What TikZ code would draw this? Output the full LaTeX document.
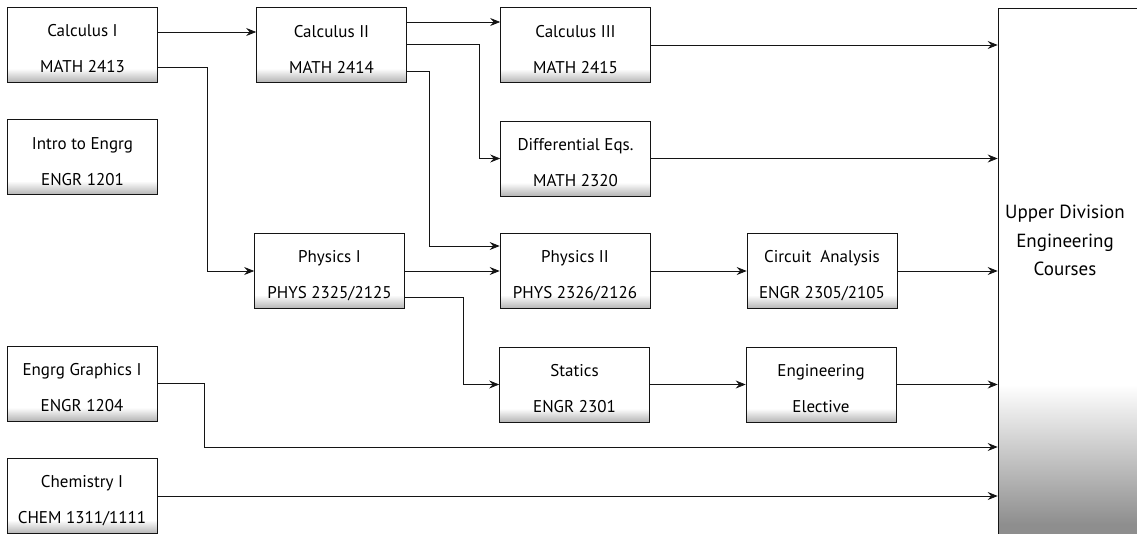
\documentclass[tikz,border=0pt]{standalone}
\usepackage{fontspec}
\setmainfont{PT Sans}
\usetikzlibrary{arrows.meta,positioning}
\definecolor{ink}{HTML}{141414}
\definecolor{grain}{HTML}{B4B4B4}
\definecolor{graindk}{HTML}{8E8E8E}
\pgfdeclareverticalshading{boxgrain}{100bp}{color(0bp)=(grain); color(25bp)=(grain); color(34bp)=(white); color(100bp)=(white)}
\pgfdeclareverticalshading{uppergrain}{100bp}{color(0bp)=(graindk); color(27bp)=(graindk); color(40bp)=(white); color(100bp)=(white)}

\begin{document}
\begin{tikzpicture}[x=1pt,y=-1pt,
    course/.style={draw=ink,line width=0.7pt,shade,shading=boxgrain,minimum width=150pt,minimum height=75pt,
      inner sep=0pt,align=center,font=\fontsize{17}{36}\selectfont},
    flow/.style={draw=ink,line width=0.7pt,-{Stealth[length=10pt,width=8pt,inset=3.5pt]}}]
  \clip (0,0) rectangle (1137,533);
  \foreach \nm/\cx/\cy/\ta/\tb in {
      calcI/82.5/44.5/{Calculus I}/{MATH 2413},
      introE/82.5/157/{Intro to Engrg}/{ENGR 1201},
      graphics/82/383.5/{Engrg Graphics I}/{ENGR 1204},
      chem/82/496/{Chemistry I}/{CHEM 1311/1111},
      calcII/331.5/44.5/{Calculus II}/{MATH 2414},
      physI/329.5/271/{Physics I}/{PHYS 2325/2125},
      calcIII/575.5/45/{Calculus III}/{MATH 2415},
      diffeq/575.5/158.5/{Differential Eqs.}/{MATH 2320},
      physII/575/271/{Physics II}/{PHYS 2326/2126},
      statics/574.5/384.5/{Statics}/{ENGR 2301},
      circuit/822/271/{Circuit~ Analysis}/{ENGR 2305/2105},
      elective/821/384.5/{Engineering}/{Elective}} {
    \node[course] (\nm) at (\cx,\cy) {\rule{0pt}{21pt}\ta\\\tb};
  }
  % upper division block runs off the page
  \node[draw=ink,line width=0.7pt,shade,shading=uppergrain,minimum width=154pt,minimum height=538pt] (upper) at (1075,277) {};
  \node[align=center,font=\fontsize{19}{28.5}\selectfont] (upperlbl) at (1065,240.5) {Upper Division\\Engineering\\Courses};

  \coordinate (c1a) at ([yshift=12.5pt]calcI.east);
  \coordinate (c2a) at ([yshift=22.5pt]calcII.east);
  \coordinate (gr) at (upper.west |- 0,447);
  \draw[flow] (c1a) -- (c1a -| calcII.west);
  \draw[flow] ([yshift=-22.5pt]calcI.east) -- ++(49,0) |- (physI.west);
  \draw[flow] (c2a) -- (c2a -| calcIII.west);
  \draw[flow] (calcII.east) -- ++(72.5,0) |- (diffeq.west);
  \draw[flow] ([yshift=-26.5pt]calcII.east) -- ++(22.5,0) |- ([yshift=25pt]physII.west);
  \draw[flow] (physI.east) -- (physII.west);
  \draw[flow] ([yshift=-26pt]physI.east) -- ++(58.5,0) |- (statics.west);
  \draw[flow] (physII.east) -- (circuit.west);
  \draw[flow] (statics.east) -- (elective.west);
  \draw[flow] (calcIII.east) -- (calcIII.east -| upper.west);
  \draw[flow] (diffeq.east) -- (diffeq.east -| upper.west);
  \draw[flow] (circuit.east) -- (circuit.east -| upper.west);
  \draw[flow] (elective.east) -- (elective.east -| upper.west);
  \draw[flow] (graphics.east) -- ++(47,0) |- (gr);
  \draw[flow] (chem.east) -- (chem.east -| upper.west);
\end{tikzpicture}
\end{document}
